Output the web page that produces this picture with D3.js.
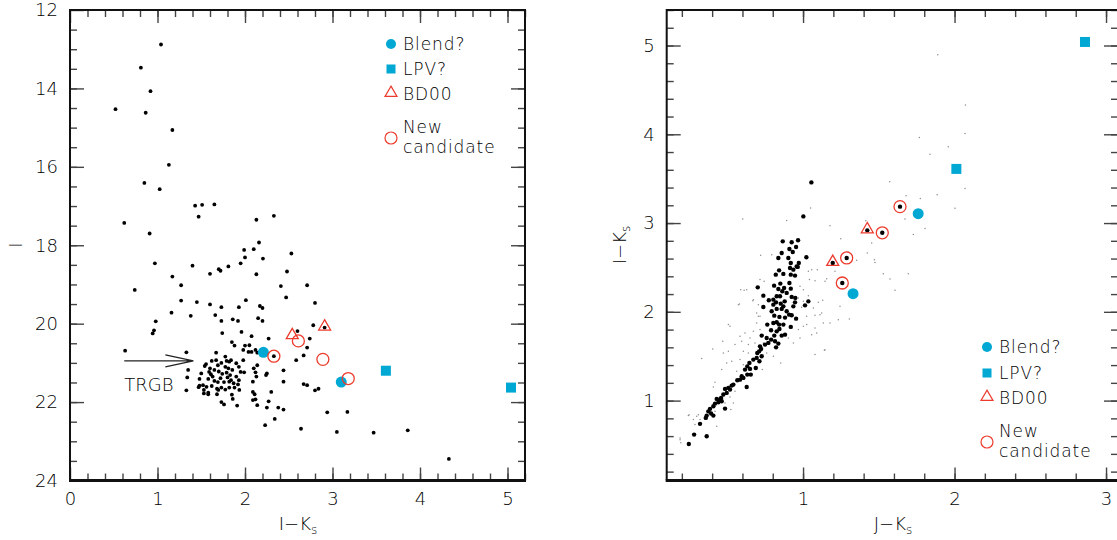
<!DOCTYPE html>
<html>
<head>
<meta charset="utf-8">
<title>CMD and colour-colour diagram</title>
<script src="https://cdn.jsdelivr.net/npm/d3@7"></script>
<style>
body { margin: 0; background: #fff; }
svg text { font-family: "DejaVu Sans", "Liberation Sans", sans-serif; font-weight: 200; fill: #000; }
.tick line { stroke: #444; stroke-width: 1.4px; }
.tick text { font-size: 18px; }
</style>
</head>
<body>
<script>
// left panel: I vs I-Ks (black stars)
var leftDots = [
  [1.04,12.88],[0.81,13.47],[0.92,14.07],[0.52,14.53],[0.865,14.62],[1.17,15.06],[1.13,15.95],[0.85,16.41],
  [1.025,16.57],[1.43,16.99],[1.51,16.97],[1.65,16.96],[1.47,17.27],[0.62,17.43],[0.91,17.70],[2.13,17.35],
  [2.33,17.25],[2.16,17.93],[1.99,18.12],[2.10,18.10],[2.0,18.31],[2.205,18.34],[0.97,18.46],[1.40,18.52],
  [1.70,18.61],[1.81,18.54],[1.95,18.46],[2.53,18.21],[1.72,18.65],[1.60,18.73],[2.13,18.74],[2.48,18.67],
  [1.17,18.80],[1.27,19.02],[0.74,19.14],[2.41,19.04],[2.71,19.02],[2.47,19.33],[1.27,19.41],[1.45,19.45],
  [1.60,19.51],[1.73,19.58],[1.93,19.58],[2.01,19.40],[2.17,19.55],[2.20,19.60],[2.80,19.47],[1.16,19.72],
  [1.38,19.80],[1.66,19.78],[1.73,19.93],[1.86,19.89],[1.92,19.93],[2.15,19.86],[2.20,19.93],[0.98,19.94],
  [0.96,20.17],[0.945,20.25],[1.74,20.24],[1.96,20.21],[2.075,20.32],[1.85,20.47],[0.63,20.69],[1.33,20.73],
  [1.67,20.74],[2.27,20.38],[1.88,20.56],[2.0,20.56],[2.05,20.55],[1.98,20.67],[2.04,20.72],[2.075,20.72],
  [2.12,20.67],[2.14,20.74],[2.33,20.83],[2.60,20.19],[2.71,20.61],[2.67,20.81],[2.585,20.93],[2.44,21.19],
  [2.44,21.48],[2.67,21.54],[2.71,21.57],[2.80,21.70],[2.84,21.66],[2.64,22.68],[2.23,22.59],[2.34,22.43],
  [2.44,22.19],[2.38,22.14],[2.25,22.14],[2.27,21.98],[2.14,22.08],[1.91,22.09],[1.73,22.0],[1.76,22.06],
  [2.09,21.95],[2.12,21.93],[2.09,21.74],[2.11,21.80],[2.30,21.74],[1.85,21.81],[1.86,21.92],[1.695,21.69],
  [1.68,21.80],[1.58,21.76],[1.47,21.62],[1.33,21.70],[1.34,21.37],[1.35,21.18],[2.12,21.24],[2.13,21.35],
  [2.09,21.48],[1.99,21.24],[1.98,20.93],[2.14,21.06],[2.10,21.14],[1.555,21.03],[1.62,20.95],[1.67,20.93],
  [1.73,21.0],[1.775,20.84],[1.79,20.95],[1.82,20.97],[1.84,20.93],[1.90,21.01],[1.93,21.10],[1.60,21.14],
  [1.65,21.18],[1.70,21.22],[1.74,21.28],[1.79,21.25],[1.83,21.31],[1.90,21.35],[1.93,21.44],[1.61,21.29],
  [1.63,21.35],[1.58,21.41],[1.65,21.46],[1.72,21.39],[1.76,21.49],[1.82,21.48],[1.87,21.52],[1.92,21.55],
  [1.52,21.57],[1.56,21.61],[1.62,21.59],[1.68,21.66],[1.73,21.63],[1.775,21.68],[1.82,21.63],[1.88,21.63],
  [1.935,21.69],[1.95,21.23],[1.775,21.10],[1.81,21.14],[1.855,21.18],[1.69,21.06],[1.59,21.23],[1.69,21.49],
  [1.80,21.37],[1.84,21.44],[1.53,21.69],[1.48,21.58],[1.53,21.78],[1.58,21.80],[1.54,21.08],[1.50,21.27],
  [1.48,21.41],[2.78,20.04],[2.91,20.10],[2.74,20.38],[2.25,21.27],[2.94,22.26],[3.17,22.25],[3.05,22.76],
  [3.47,22.78],[3.86,22.72],[4.33,23.45],[2.24,21.31]
];
var leftBlend = [[2.21,20.73],[3.10,21.49]];
var leftLPV = [[3.61,21.20],[5.04,21.63]];
var leftBD00 = [[2.54,20.32],[2.91,20.10]];
var leftNew = [[2.33,20.83],[2.61,20.44],[2.89,20.91],[3.18,21.40]];
var trgb = {from: 0.62, to: 1.41, mag: 20.95};

// right panel: I-Ks vs J-Ks
var rightDots = [
  [1.055,3.458],[1.002,3.075],[0.866,2.794],[0.925,2.783],[0.967,2.806],[0.954,2.73],[0.91,2.708],[0.859,2.663],
  [0.837,2.607],[1.022,2.614],[0.932,2.674],[0.903,2.607],[0.919,2.55],[0.972,2.55],[0.958,2.51],[0.914,2.494],
  [0.936,2.475],[0.965,2.506],[0.842,2.467],[0.82,2.419],[0.87,2.427],[0.919,2.419],[0.947,2.408],[0.91,2.325],
  [0.809,2.295],[0.85,2.318],[0.875,2.269],[0.837,2.258],[0.863,2.231],[0.892,2.213],[0.919,2.261],[0.701,2.276],
  [0.738,2.182],[0.774,2.13],[0.804,2.137],[0.826,2.175],[0.848,2.175],[0.822,2.107],[0.853,2.092],[0.879,2.118],
  [0.925,2.168],[0.949,2.157],[0.936,2.062],[0.947,2.107],[0.87,2.062],[0.804,2.081],[0.793,2.006],[0.826,2.033],
  [0.859,2.033],[0.892,2.006],[0.908,1.968],[0.738,2.055],[1.035,2.118],[1.013,2.073],[0.81,1.957],[0.844,1.943],
  [0.881,1.935],[0.925,1.961],[0.954,1.923],[0.764,1.856],[0.804,1.875],[0.826,1.882],[0.842,1.856],[0.87,1.856],
  [0.919,1.83],[0.789,1.792],[0.826,1.78],[0.844,1.807],[0.881,1.743],[0.859,1.732],[0.81,1.732],[0.727,1.732],
  [0.76,1.706],[0.789,1.687],[0.815,1.668],[0.822,1.60],[0.837,1.642],[0.771,1.65],[0.749,1.631],[0.716,1.611],
  [0.71,1.555],[0.723,1.582],[0.698,1.537],[0.727,1.499],[0.694,1.481],[0.672,1.462],[0.712,1.443],[0.646,1.425],
  [0.632,1.386],[0.65,1.357],[0.617,1.349],[0.688,1.368],[0.655,1.293],[0.632,1.293],[0.606,1.256],[0.584,1.236],
  [0.566,1.229],[0.595,1.274],[0.628,1.154],[0.529,1.169],[0.54,1.18],[0.507,1.143],[0.518,1.124],[0.485,1.132],
  [0.496,1.087],[0.474,1.068],[0.459,1.03],[0.448,1.011],[0.43,1.019],[0.463,0.992],[0.441,0.981],[0.419,0.966],
  [0.485,0.91],[0.408,0.936],[0.386,0.907],[0.375,0.879],[0.393,0.854],[0.408,0.831],[0.364,0.831],[0.358,0.805],
  [0.32,0.738],[0.281,0.617],[0.364,0.598],[0.246,0.512],
  [1.64,3.185],[1.523,2.89],[1.288,2.607],[1.259,2.325],[1.424,2.918],[1.196,2.55]
];
// faint field stars
var rightFaint = [
  [0.602,3.046],[0.892,3.03],[1.05,3.17],[1.178,2.97],[1.249,2.824],[0.72,2.636],[1.297,2.674],
  [1.889,4.895],[2.072,4.33],[2.069,4.01],[1.768,3.965],[1.959,3.86],[1.838,3.774],[1.572,3.466],[2.069,3.39],
  [1.68,3.309],[1.885,3.32],[1.774,3.278],[2.003,3.166],[1.673,3.046],[1.805,2.94],[1.728,2.87],[1.414,3.027],
  [1.453,2.776],[1.424,2.663],[1.471,2.588],[1.354,2.58],[1.53,2.43],[1.574,2.37],[1.607,2.242],[1.695,2.43],
  [1.475,2.557],[0.793,2.644],[0.716,2.363],[0.743,2.344],[0.589,2.25],[0.628,2.25],[0.668,2.126],[0.58,2.089],
  [0.705,2.081],[0.694,1.988],[0.716,1.949],[1.057,2.475],[1.042,2.363],[1.079,2.351],[1.145,2.344],[0.98,2.287],
  [1.002,2.25],[1.035,2.182],[0.969,2.157],[1.13,2.13],[1.101,2.107],[1.068,2.044],[1.123,1.988],[1.079,1.961],
  [0.991,2.051],[1.002,2.118],[1.156,2.374],[0.507,1.856],[0.518,1.837],[0.47,1.668],[0.404,1.582],[0.331,1.473],
  [0.463,1.349],[0.496,1.425],[0.529,1.443],[0.474,1.537],[0.507,1.555],[0.551,1.631],[0.584,1.724],[0.617,1.762],
  [0.595,1.668],[0.639,1.631],[0.65,1.706],[0.672,1.78],[0.683,1.65],[0.606,1.555],[0.639,1.537],[0.584,1.462],
  [0.562,1.33],[0.606,1.405],[0.694,1.875],[0.705,1.949],[0.716,1.80],[0.738,1.65],[0.76,1.537],[0.731,1.349],
  [0.804,1.499],[0.853,1.425],[0.903,1.706],[0.936,1.65],[0.98,1.706],[0.969,1.80],[1.002,1.837],[1.024,1.856],
  [1.079,1.818],[1.09,1.762],[1.057,1.743],[1.134,1.875],[1.145,1.574],[1.079,1.518],[1.112,1.968],[1.024,1.949],
  [0.551,1.105],[0.518,1.042],[0.485,0.974],[0.419,0.879],[0.309,0.842],[0.276,0.786],[0.243,0.831],[0.188,0.58],
  [0.193,0.524],[0.32,0.786],[0.287,0.73],[0.523,0.899],[0.43,0.711],[0.188,0.56],[0.248,0.842],[0.298,0.823],
  [0.408,1.154],[0.419,1.206],[0.573,2.081],[0.611,2.242],[0.672,2.137],[0.54,0.974],[1.141,1.566],[1.178,1.875],
  [1.233,1.912],[1.306,1.92],[1.244,2.062],[1.035,2.456],[1.094,2.475],[1.211,2.456]
];
var rightBlend = [[1.33,2.205],[1.76,3.106]];
var rightLPV = [[2.012,3.61],[2.861,5.04]];
var rightBD00 = [[1.196,2.55],[1.424,2.918]];
var rightNew = [[1.259,2.325],[1.288,2.607],[1.523,2.89],[1.64,3.185]];

var legendLabels = ["Blend?", "LPV?", "BD00", ["New", "candidate"]];
var blue = "#00a8d3", red = "#ec3b2d";

var svg = d3.select("body").append("svg")
  .attr("width", 1117).attr("height", 540);

var xL = d3.scaleLinear().domain([0, 5.2]).range([70, 525]);
var yL = d3.scaleLinear().domain([12, 24]).range([10, 480.5]);
var xR = d3.scaleLinear().domain([0.1, 3.079]).range([666.7, 1118]);
var yR = d3.scaleLinear().domain([0.1, 5.4]).range([480.5, 10]);

function step(a, b, s) {
  var out = [];
  for (var i = 0; a + i * s <= b + 1e-9; i++) out.push(+(a + i * s).toFixed(3));
  return out;
}

// frame + inward ticks on all four sides
function drawFrame(x, y, xMajor, xMinor, yMajor, yMinor) {
  var x0 = x.range()[0], x1 = x.range()[1], y0 = y.range()[0], y1 = y.range()[1];
  var top = Math.min(y0, y1), bottom = Math.max(y0, y1);
  var g = svg.append("g");
  function ax(axis, tr, labels) {
    var a = g.append("g").attr("transform", tr).call(axis);
    a.select(".domain").remove();
    if (!labels) a.selectAll("text").remove();
    return a;
  }
  ax(d3.axisBottom(x).tickValues(xMinor).tickSize(-7).tickFormat(""), "translate(0," + bottom + ")");
  ax(d3.axisBottom(x).tickValues(xMajor).tickSize(-13).tickPadding(12).tickFormat(d3.format("d")), "translate(0," + bottom + ")", true);
  ax(d3.axisTop(x).tickValues(xMinor).tickSize(-7), "translate(0," + top + ")");
  ax(d3.axisTop(x).tickValues(xMajor).tickSize(-13), "translate(0," + top + ")");
  ax(d3.axisLeft(y).tickValues(yMinor).tickSize(-7).tickFormat(""), "translate(" + x0 + ",0)");
  ax(d3.axisLeft(y).tickValues(yMajor).tickSize(-14).tickPadding(12).tickFormat(d3.format("d")), "translate(" + x0 + ",0)", true);
  ax(d3.axisRight(y).tickValues(yMinor).tickSize(-7), "translate(" + x1 + ",0)");
  ax(d3.axisRight(y).tickValues(yMajor).tickSize(-14), "translate(" + x1 + ",0)");
  g.selectAll(".tick text").attr("fill", "#000").attr("font-family", null);
  g.append("path")
    .attr("d", "M" + x0 + "," + bottom + "V" + top + "H" + x1 + "V" + bottom)
    .attr("fill", "none").attr("stroke", "#111").attr("stroke-width", 2);
  g.append("line").attr("x1", x0 - 1).attr("x2", x1 + 1).attr("y1", bottom).attr("y2", bottom)
    .attr("stroke", "#111").attr("stroke-width", 3);
}

var tri = d3.symbol().type(d3.symbolTriangle).size(62);

function drawMarks(x, y, faint, dots, dotR, blend, lpv, bd, cand) {
  var g = svg.append("g");
  g.selectAll(".faint").data(faint).enter().append("circle")
    .attr("cx", d => x(d[0])).attr("cy", d => y(d[1])).attr("r", 0.75).attr("fill", "#8f8f8f");
  g.selectAll(".dot").data(dots).enter().append("circle")
    .attr("cx", d => x(d[0])).attr("cy", d => y(d[1])).attr("r", dotR).attr("fill", "#000");
  g.selectAll(".blend").data(blend).enter().append("circle")
    .attr("cx", d => x(d[0])).attr("cy", d => y(d[1])).attr("r", 5.5).attr("fill", blue);
  g.selectAll(".lpv").data(lpv).enter().append("rect")
    .attr("x", d => x(d[0]) - 5).attr("y", d => y(d[1]) - 5).attr("width", 10).attr("height", 10).attr("fill", blue);
  g.selectAll(".bd").data(bd).enter().append("path")
    .attr("d", tri).attr("transform", d => "translate(" + x(d[0]) + "," + (y(d[1]) - 1) + ")")
    .attr("fill", "none").attr("stroke", red).attr("stroke-width", 1.3);
  g.selectAll(".cand").data(cand).enter().append("circle")
    .attr("cx", d => x(d[0])).attr("cy", d => y(d[1])).attr("r", 6)
    .attr("fill", "none").attr("stroke", red).attr("stroke-width", 1.3);
}

function drawLegend(mx, tx, rows) {
  var g = svg.append("g").style("font-size", "17px").style("letter-spacing", "0.9px");
  g.append("circle").attr("cx", mx).attr("cy", rows[0]).attr("r", 5).attr("fill", blue);
  g.append("rect").attr("x", mx - 4.5).attr("y", rows[1] - 4.5).attr("width", 9).attr("height", 9).attr("fill", blue);
  g.append("path").attr("d", tri).attr("transform", "translate(" + mx + "," + (rows[2] - 1) + ")")
    .attr("fill", "none").attr("stroke", red).attr("stroke-width", 1.2);
  g.append("circle").attr("cx", mx).attr("cy", rows[3] + 11).attr("r", 6)
    .attr("fill", "none").attr("stroke", red).attr("stroke-width", 1.2);
  legendLabels.forEach(function(t, i) {
    var txt = g.append("text").attr("x", tx).attr("y", rows[i]).attr("dy", "0.35em");
    if (Array.isArray(t)) {
      txt.append("tspan").text(t[0]);
      txt.append("tspan").attr("x", tx).attr("dy", "20px").text(t[1]);
    } else txt.text(t);
  });
}

function axisLabel(x, y, main, sub, rotate) {
  var t = svg.append("text").attr("transform", "translate(" + x + "," + y + ")" + (rotate ? " rotate(-90)" : ""))
    .attr("text-anchor", "middle").style("font-size", "18px").text(main);
  if (sub) t.append("tspan").attr("dy", "0.35em").style("font-size", "12px").text(sub);
}

// left panel
drawFrame(xL, yL, [0, 1, 2, 3, 4, 5], step(0.2, 5.2, 0.2), step(12, 24, 2), step(12.5, 23.5, 0.5));
drawMarks(xL, yL, [], leftDots, 1.9, leftBlend, leftLPV, leftBD00, leftNew);
drawLegend(391, 403, [44, 69, 94, 127]);

// TRGB arrow
var ay = yL(trgb.mag), ax0 = xL(trgb.from), ax1 = xL(trgb.to);
svg.append("path")
  .attr("d", "M" + ax0 + "," + ay + "H" + ax1 + "M" + (ax1 - 28) + "," + (ay - 6) + "L" + ax1 + "," + ay + "L" + (ax1 - 28) + "," + (ay + 6))
  .attr("fill", "none").attr("stroke", "#222").attr("stroke-width", 1.3);
svg.append("text").attr("x", xL(trgb.from)).attr("y", 391).style("font-size", "18px").text("TRGB");

axisLabel(298, 530, "I\u2212K", "s");
axisLabel(22, 245, "I", null, true);

// right panel
drawFrame(xR, yR, [1, 2, 3], step(0.2, 3.0, 0.2), [1, 2, 3, 4, 5], step(0.2, 5.4, 0.2));
drawMarks(xR, yR, rightFaint, rightDots, 2.2, rightBlend, rightLPV, rightBD00, rightNew);
drawLegend(987, 999, [347, 373, 398, 431]);

axisLabel(893, 530, "J\u2212K", "s");
axisLabel(626, 245, "I\u2212K", "s", true);
</script>
</body>
</html>
